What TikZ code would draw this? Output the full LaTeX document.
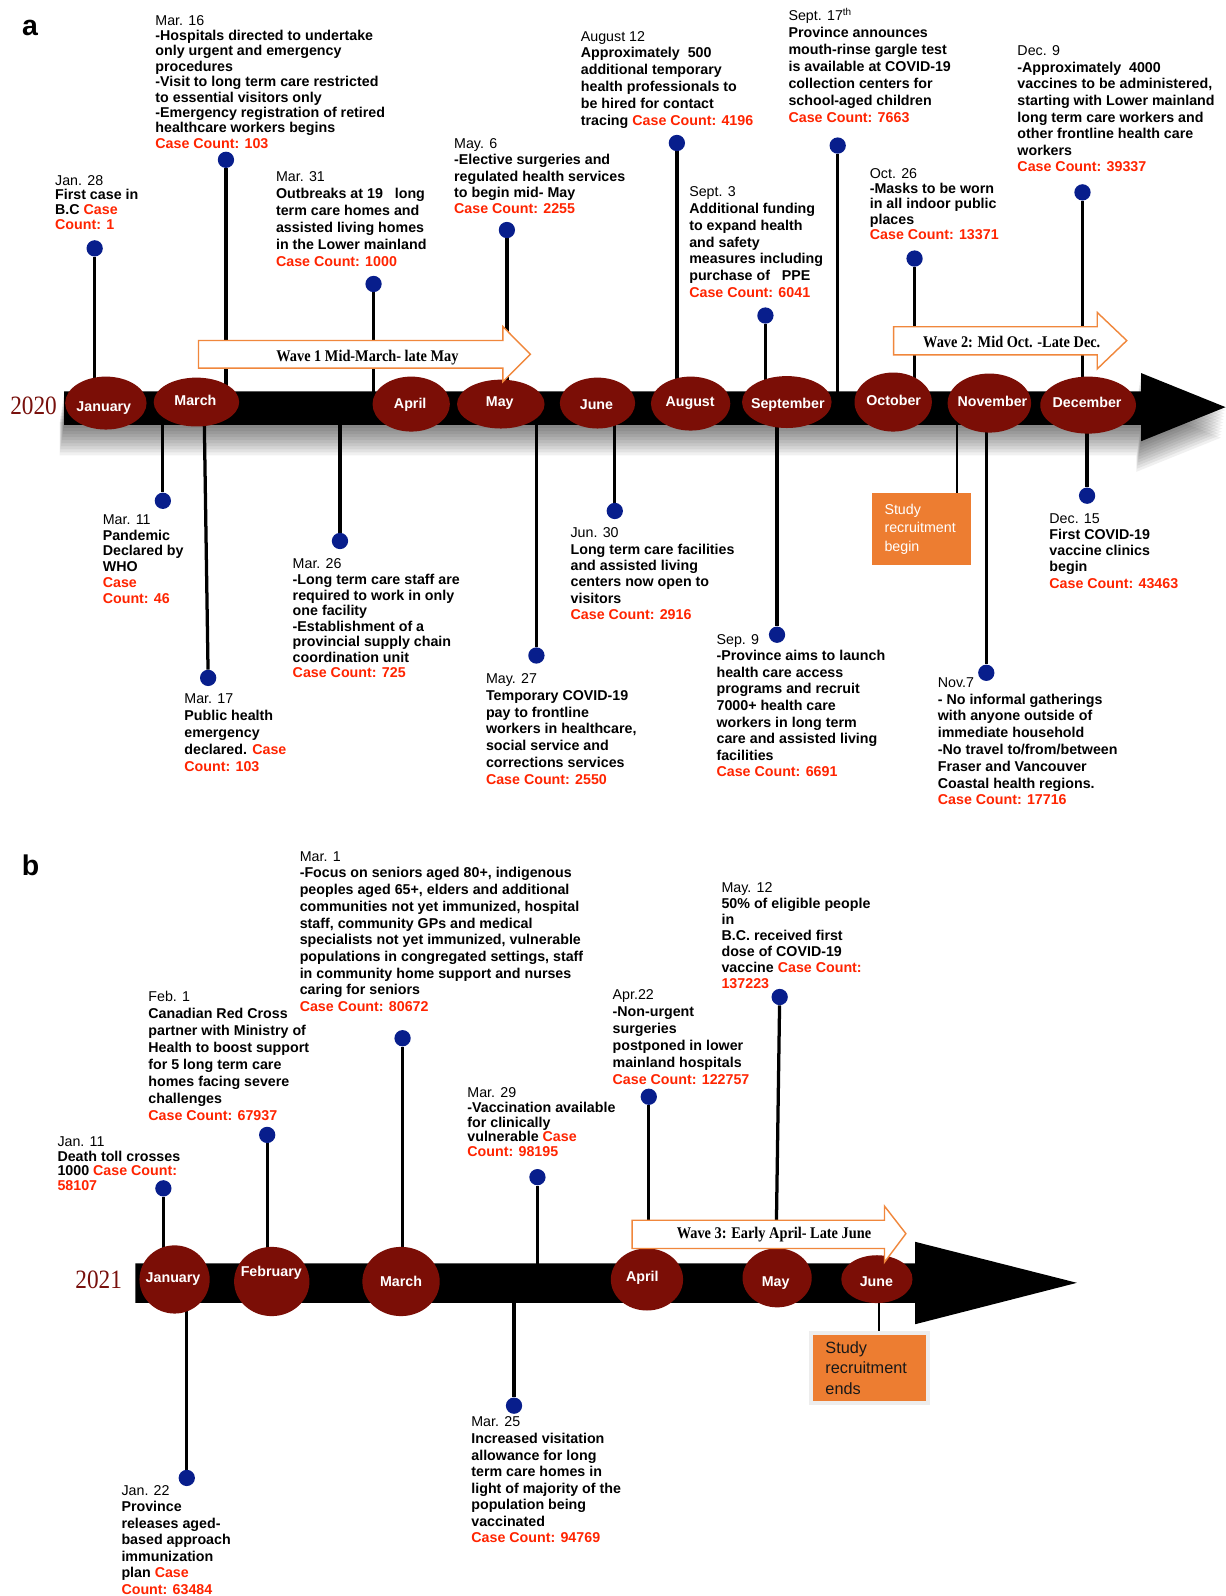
\documentclass[tikz,border=0pt]{standalone}
\usepackage{fontspec}
\setmainfont{Liberation Sans}
\newfontfamily\tmsfont{Liberation Serif}
\usepackage{graphicx}
\usetikzlibrary{shapes.geometric}
\definecolor{mred}{RGB}{123,14,6}
\definecolor{yred}{RGB}{120,16,12}
\definecolor{casered}{RGB}{255,36,0}
\definecolor{dotblue}{RGB}{8,30,140}
\definecolor{orng}{RGB}{237,125,49}
\definecolor{waveor}{RGB}{240,135,60}
\pgfdeclarelayer{bgs}
\pgfdeclarelayer{bgl}
\pgfsetlayers{bgs,bgl,main}
\newcommand\cc[1]{\textcolor{casered}{#1}}
\newcommand\dt[1]{{\mdseries #1}}
\tikzset{
 evt/.style={anchor=north west, inner sep=0pt, align=left, font=\fontsize{14}{#1}\selectfont\bfseries},
 evt/.default=16.5,
 evdot/.style={circle, fill=dotblue, minimum size=16pt, inner sep=0pt},
 stemline/.style={line width=3.2pt},
 boxline/.style={line width=2pt},
 mell/.style={ellipse, fill=mred, inner sep=0pt},
 mlab/.style={anchor=base, text=white, font=\fontsize{14}{16}\selectfont\bfseries, inner sep=0pt},
 wavearrow/.style={draw=waveor, fill=white, line width=1.4pt, line join=miter},
 wlab/.style={anchor=base, inner sep=0pt, font=\tmsfont\fontsize{16}{18}\selectfont\bfseries},
 yearlab/.style={anchor=base, inner sep=0pt, text=yred, font=\tmsfont\fontsize{26}{28}\selectfont},
 panellab/.style={anchor=center, inner sep=0pt, font=\fontsize{28}{30}\selectfont\bfseries},
}
\begin{document}
\begin{tikzpicture}[x=1pt,y=-1pt]
\useasboundingbox (0,0) rectangle (1204,1568);
\begin{pgfonlayer}{bgs}
\fill[white] (0,0) rectangle (1204,1568);
\foreach \d in {3,6,...,30}{
  \fill[black,opacity=0.06,shift={(-0.15*\d,\d)}] (63,384.5) -- (1121,384.5) -- (1121,366.5) -- (1204,400) -- (1121,433.5) -- (1121,417.5) -- (63,417.5) -- cycle;
}
\end{pgfonlayer}

% panel labels and years
\node[panellab] (pa) at (29.5,27) {a};
\node[panellab] (pb) at (30,850.5) {b};
\node[yearlab] (y2020) at (33,407.3) {\scalebox{0.88}[1]{2020}};
\node[yearlab] (y2021) at (97,1266.3) {\scalebox{0.88}[1]{2021}};

\coordinate (barA) at (600,400);
\coordinate (barB) at (500,1260);

% bars
\fill (63,384.5) -- (1121,384.5) -- (1121,366.5) -- (1204,400) -- (1121,433.5) -- (1121,417.5) -- (63,417.5) -- cycle;
\fill (133,1241.3) -- (899,1241.3) -- (899,1220) -- (1058,1260.3) -- (899,1301) -- (899,1280) -- (133,1280) -- cycle;

% months 2020
\node[mell, minimum width=80pt, minimum height=52pt] (m-jan) at (104,396) {};
\node[mlab] (m-jan-t) at (102,404.4) {January};
\node[mell, minimum width=84pt, minimum height=48pt] (m-mar) at (193,395) {};
\node[mlab] (m-mar-t) at (192,398.8) {March};
\node[mell, minimum width=76pt, minimum height=54pt] (m-apr) at (404,397) {};
\node[mlab] (m-apr-t) at (403,401.8) {April};
\node[mell, minimum width=86pt, minimum height=48pt] (m-may) at (492,397) {};
\node[mlab] (m-may-t) at (491,399.5) {May};
\node[mell, minimum width=74pt, minimum height=50pt] (m-jun) at (587,396) {};
\node[mlab] (m-jun-t) at (586,402) {June};
\node[mell, minimum width=78pt, minimum height=53pt] (m-aug) at (678.5,396.5) {};
\node[mlab] (m-aug-t) at (678,399.5) {August};
\node[mell, minimum width=88pt, minimum height=51pt] (m-sep) at (773,395) {};
\node[mlab] (m-sep-t) at (774,401) {September};
\node[mell, minimum width=76pt, minimum height=58pt] (m-oct) at (877.5,395) {};
\node[mlab] (m-oct-t) at (878,398.8) {October};
\node[mell, minimum width=82pt, minimum height=58pt] (m-nov) at (972,396) {};
\node[mlab] (m-nov-t) at (975,399.5) {November};
\node[mell, minimum width=94pt, minimum height=56pt] (m-dec) at (1069,398) {};
\node[mlab] (m-dec-t) at (1068,400.5) {December};

% months 2021
\node[mell, minimum width=69pt, minimum height=67pt] (n-jan) at (171.5,1257) {};
\node[mlab] (n-jan-t) at (170,1260.4) {January};
\node[mell, minimum width=74pt, minimum height=68pt] (n-feb) at (267,1259) {};
\node[mlab] (n-feb-t) at (266.5,1253.8) {February};
\node[mell, minimum width=76pt, minimum height=68pt] (n-mar) at (394,1259) {};
\node[mlab] (n-mar-t) at (394,1263.7) {March};
\node[mell, minimum width=71pt, minimum height=61pt] (n-apr) at (635.6,1257) {};
\node[mlab] (n-apr-t) at (631,1258.8) {April};
\node[mell, minimum width=68pt, minimum height=58pt] (n-may) at (763.5,1255.4) {};
\node[mlab] (n-may-t) at (762,1263.7) {May};
\node[mell, minimum width=70pt, minimum height=47pt] (n-jun) at (861.5,1256.7) {};
\node[mlab] (n-jun-t) at (861,1263.7) {June};

% wave arrows
\draw[wavearrow] (195,334.5) -- (494,334.5) -- (494,320.8) -- (521,348) -- (494,375) -- (494,361.6) -- (195,361.6) -- cycle;
\node[wlab] (w1) at (361,355) {\scalebox{0.88}[1]{Wave 1 Mid-March- late May}};
\draw[wavearrow] (878,321) -- (1078,321) -- (1078,307) -- (1107,334.6) -- (1078,362.4) -- (1078,348.6) -- (878,348.6) -- cycle;
\node[wlab] (w2) at (994,341.5) {\scalebox{0.88}[1]{Wave 2: Mid Oct. -Late Dec.}};
\draw[wavearrow] (621,1198.8) -- (869,1198.8) -- (869,1185) -- (890,1212) -- (869,1240) -- (869,1226.6) -- (621,1226.6) -- cycle;
\node[wlab] (w3) at (760.4,1216.5) {\scalebox{0.88}[1]{Wave 3: Early April- Late June}};

% dots 2020
\node[evdot] (a1) at (93,244) {};
\node[evdot] (a2) at (222,157) {};
\node[evdot] (a3) at (367,279) {};
\node[evdot] (a4) at (498,226) {};
\node[evdot] (a5) at (665,140.5) {};
\node[evdot] (a6) at (752,310) {};
\node[evdot] (a7) at (823,143) {};
\node[evdot] (a8) at (898.5,254) {};
\node[evdot] (a9) at (1063.5,189) {};
\node[evdot] (b1) at (160,492) {};
\node[evdot] (b2) at (204.5,666) {};
\node[evdot] (b3) at (334,531.5) {};
\node[evdot] (b4) at (527,644) {};
\node[evdot] (b5) at (604,502) {};
\node[evdot] (b6) at (763.4,623.6) {};
\node[evdot] (b7) at (969,661) {};
\node[evdot] (b8) at (1068,487) {};
% dots 2021
\node[evdot] (e1) at (160.5,1167.5) {};
\node[evdot] (e2) at (262.5,1115) {};
\node[evdot] (e3) at (395.5,1020) {};
\node[evdot] (e4) at (528,1156.5) {};
\node[evdot] (e5) at (637.4,1077.5) {};
\node[evdot] (e6) at (766,979.5) {};
\node[evdot] (f1) at (183.5,1452) {};
\node[evdot] (f2) at (505,1381) {};

\coordinate (m17top) at (200.5,400);
\coordinate (m12bot) at (762,1257);
\coordinate (c-sb1) at (940,400);
\coordinate (c-sb2) at (864,1260);

% study boxes
\node[fill=orng, minimum height=71pt, inner xsep=12pt, text width=72.6pt, align=left, text=white, font=\fontsize{14}{18}\selectfont] (sb1) at (905.3,520) {Study\\recruitment\\begin};
\node[fill=orng, draw=black!7, line width=4pt, minimum height=68pt, inner xsep=14pt, text width=87pt, align=left, text=black!90, font=\fontsize{16}{20}\selectfont] (sb2) at (854.5,1344) {Study\\recruitment\\ends};

% stems
\begin{pgfonlayer}{bgl}
\foreach \n in {a1,a2,a3,a4,a5,a6,a7,a8,a9,b1,b3,b4,b5,b6,b7,b8}{
  \draw[stemline] (\n) -- (\n |- barA);
}
\draw[stemline] (m17top) -- (b2);
\foreach \n in {e1,e2,e3,e4,e5,f1,f2}{
  \draw[stemline] (\n) -- (\n |- barB);
}
\draw[stemline] (e6) -- (m12bot);
\draw[boxline] (c-sb1) -- (c-sb1 |- sb1.north);
\draw[boxline] (c-sb2) -- (c-sb2 |- sb2.north);
\end{pgfonlayer}

% texts 2020 above
\node[evt=14.4] (t-a1) at (54,172) {\dt{Jan. 28}\\First case in\\B.C \cc{Case}\\\cc{Count: 1}};
\node[evt=15.15] (t-a2) at (152.5,14.6) {\dt{Mar. 16}\\-Hospitals directed to undertake\\only urgent and emergency\\procedures\\-Visit to long term care restricted\\to essential visitors only\\-Emergency registration of retired\\healthcare workers begins\\\cc{Case Count: 103}};
\node[evt=16.7] (t-a3) at (271,168.5) {\dt{Mar. 31}\\Outbreaks at 19\ \ \ long\\term care homes and\\assisted living homes\\in the Lower mainland\\\cc{Case Count: 1000}};
\node[evt=16.05] (t-a4) at (446,135.8) {\dt{May. 6}\\-Elective surgeries and\\regulated health services\\to begin mid- May\\\cc{Case Count: 2255}};
\node[evt=16.5] (t-a5) at (570.5,30.4) {\dt{August 12}\\Approximately\ \ 500\\additional temporary\\health professionals to\\be hired for contact\\tracing \cc{Case Count: 4196}};
\node[evt=16.5] (t-a6) at (677,183.2) {\dt{Sept. 3}\\Additional funding\\to expand health\\and safety\\measures including\\purchase of\ \ \ PPE\\\cc{Case Count: 6041}};
\node[evt=16.7] (t-a7) at (774.5,7.6) {\dt{Sept. 17\textsuperscript{th}}\\Province announces\\mouth-rinse gargle test\\is available at COVID-19\\collection centers for\\school-aged children\\\cc{Case Count: 7663}};
\node[evt=15] (t-a8) at (854.4,165.2) {\dt{Oct. 26}\\-Masks to be worn\\in all indoor public\\places\\\cc{Case Count: 13371}};
\node[evt=16.3] (t-a9) at (999.4,44.8) {\dt{Dec. 9}\\-Approximately\ \ 4000\\vaccines to be administered,\\starting with Lower mainland\\long term care workers and\\other frontline health care\\workers\\\cc{Case Count: 39337}};
% texts 2020 below
\node[evt=15.7] (t-b1) at (100.8,505) {\dt{Mar. 11}\\Pandemic\\Declared by\\WHO\\\cc{Case}\\\cc{Count: 46}};
\node[evt=16.7] (t-b2) at (181,681.8) {\dt{Mar. 17}\\Public health\\emergency\\declared. \cc{Case}\\\cc{Count: 103}};
\node[evt=15.3] (t-b3) at (287.4,548.9) {\dt{Mar. 26}\\-Long term care staff are\\required to work in only\\one facility\\-Establishment of a\\provincial supply chain\\coordination unit\\\cc{Case Count: 725}};
\node[evt=16.5] (t-b4) at (477.3,661.5) {\dt{May. 27}\\Temporary COVID-19\\pay to frontline\\workers in healthcare,\\social service and\\corrections services\\\cc{Case Count: 2550}};
\node[evt=16.2] (t-b5) at (560.4,518.1) {\dt{Jun. 30}\\Long term care facilities\\and assisted living\\centers now open to\\visitors\\\cc{Case Count: 2916}};
\node[evt=16.3] (t-b6) at (703.8,622.9) {\dt{Sep. 9}\\-Province aims to launch\\health care access\\programs and recruit\\7000+ health care\\workers in long term\\care and assisted living\\facilities\\\cc{Case Count: 6691}};
\node[evt=16.5] (t-b7) at (921.2,665.4) {\dt{Nov.7}\\- No informal gatherings\\with anyone outside of\\immediate household\\-No travel to/from/between\\Fraser and Vancouver\\Coastal health regions.\\\cc{Case Count: 17716}};
\node[evt=16] (t-b8) at (1030.8,504) {\dt{Dec. 15}\\First COVID-19\\vaccine clinics\\begin\\\cc{Case Count: 43463}};
% texts 2021
\node[evt=14.3] (t-e1) at (56.3,1116.8) {\dt{Jan. 11}\\Death toll crosses\\1000 \cc{Case Count:}\\\cc{58107}};
\node[evt=16.6] (t-e2) at (145.6,973.8) {\dt{Feb. 1}\\Canadian Red Cross\\partner with Ministry of\\Health to boost support\\for 5 long term care\\homes facing severe\\challenges\\\cc{Case Count: 67937}};
\node[evt=16.4] (t-e3) at (294.3,836.3) {\dt{Mar. 1}\\-Focus on seniors aged 80+, indigenous\\peoples aged 65+, elders and additional\\communities not yet immunized, hospital\\staff, community GPs and medical\\specialists not yet immunized, vulnerable\\populations in congregated settings, staff\\in community home support and nurses\\caring for seniors\\\cc{Case Count: 80672}};
\node[evt=14.4] (t-e4) at (459,1068.7) {\dt{Mar. 29}\\-Vaccination available\\for clinically\\vulnerable \cc{Case}\\\cc{Count: 98195}};
\node[evt=16.7] (t-e5) at (601.7,972.2) {\dt{Apr.22}\\-Non-urgent\\surgeries\\postponed in lower\\mainland hospitals\\\cc{Case Count: 122757}};
\node[evt=15.8] (t-e6) at (708.7,866.7) {\dt{May. 12}\\50\% of eligible people\\in\\B.C. received first\\dose of COVID-19\\vaccine \cc{Case Count:}\\\cc{137223}};
\node[evt=16.25] (t-f1) at (119.2,1459) {\dt{Jan. 22}\\Province\\releases aged-\\based approach\\immunization\\plan \cc{Case}\\\cc{Count: 63484}};
\node[evt=16.3] (t-f2) at (462.9,1391.8) {\dt{Mar. 25}\\Increased visitation\\allowance for long\\term care homes in\\light of majority of the\\population being\\vaccinated\\\cc{Case Count: 94769}};
\end{tikzpicture}
\end{document}
